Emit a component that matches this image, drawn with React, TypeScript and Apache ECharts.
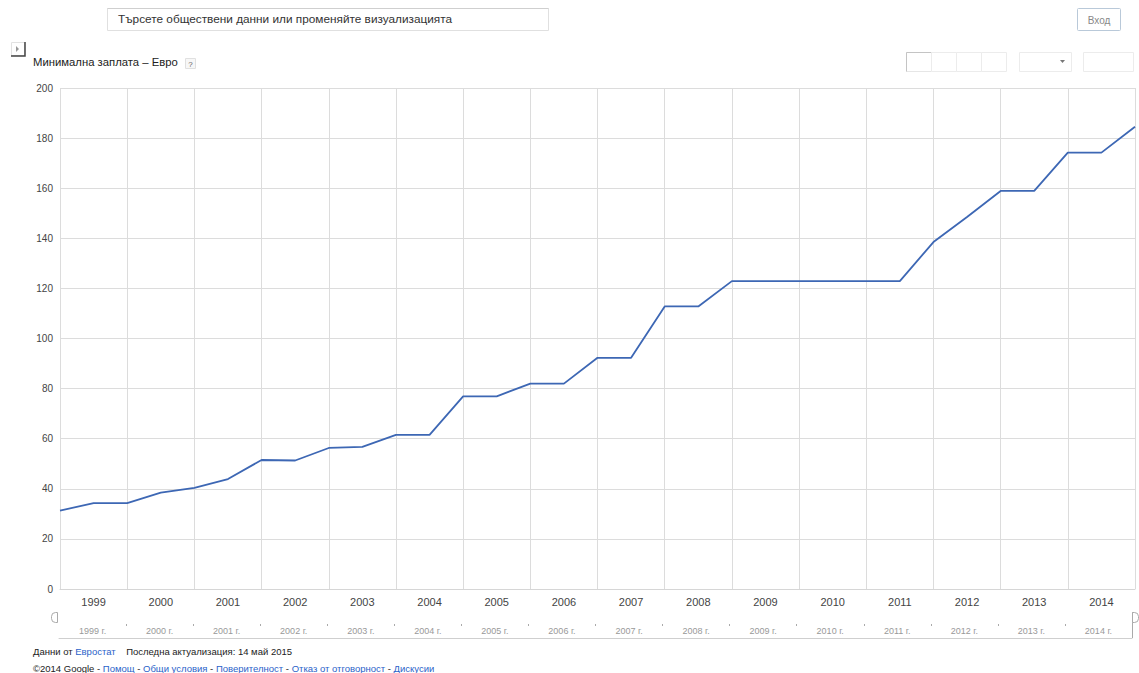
import React, { useEffect, useRef } from "react";
import * as echarts from "echarts";

const periods: string[] = [
  "1999-01", "1999-07", "2000-01", "2000-07", "2001-01", "2001-07", "2002-01", "2002-07",
  "2003-01", "2003-07", "2004-01", "2004-07", "2005-01", "2005-07", "2006-01", "2006-07",
  "2007-01", "2007-07", "2008-01", "2008-07", "2009-01", "2009-07", "2010-01", "2010-07",
  "2011-01", "2011-07", "2012-01", "2012-07", "2013-01", "2013-07", "2014-01", "2014-07",
  "2015-01",
];

const minWageEur: number[] = [
  31.3, 34.3, 34.3, 38.5, 40.4, 43.9, 51.5, 51.3,
  56.3, 56.7, 61.5, 61.5, 76.9, 76.9, 82.0, 82.0,
  92.3, 92.3, 112.8, 112.8, 122.9, 122.9, 122.9, 122.9,
  122.9, 122.9, 138.5, 148.5, 158.9, 158.9, 174.2, 174.2,
  184.5,
];

const yTicks = { min: 0, max: 200, interval: 20 };

const FONT = '"Liberation Sans", Arial, sans-serif';
const LINK = "#2a62c9";

export default function App() {
  const ref = useRef<HTMLDivElement>(null);

  useEffect(() => {
    if (!ref.current) return;
    const chart = echarts.init(ref.current, undefined, { renderer: "svg" });
    const isMid = (i: number) => i % 2 === 1;
    const isJan = (i: number) => i % 2 === 0;

    chart.setOption({
      animation: false,
      backgroundColor: "#ffffff",
      textStyle: { fontFamily: FONT },
      grid: [
        { left: 60, right: 4, top: 88, height: 501 },
        { left: 59, right: 7, top: 624, height: 14 },
      ],
      xAxis: [
        {
          type: "category",
          gridIndex: 0,
          data: periods,
          boundaryGap: false,
          axisLine: { show: true, lineStyle: { color: "#d6d6d6" } },
          axisTick: { show: false },
          axisLabel: {
            interval: (i: number) => isMid(i),
            formatter: (v: string) => v.slice(0, 4),
            color: "#444",
            fontSize: 11,
            margin: 7,
            fontFamily: FONT,
          },
          splitLine: {
            show: true,
            interval: (i: number) => isJan(i),
            lineStyle: { color: "#dcdcdc", width: 1 },
          },
        },
        {
          type: "category",
          gridIndex: 1,
          data: periods,
          boundaryGap: false,
          position: "bottom",
          axisLine: { show: true, lineStyle: { color: "#cfcfcf" } },
          axisTick: { show: false },
          axisLabel: {
            inside: true,
            interval: (i: number) => isMid(i),
            formatter: (v: string) => v.slice(0, 4) + " г.",
            color: "#999",
            fontSize: 9,
            margin: 3,
            fontFamily: FONT,
          },
          splitLine: { show: false },
        },
        {
          type: "category",
          gridIndex: 1,
          data: periods,
          boundaryGap: false,
          position: "top",
          axisLine: { show: false },
          axisTick: {
            show: true,
            inside: true,
            length: 2,
            interval: (i: number) => isJan(i) && i > 0 && i < periods.length - 1,
            lineStyle: { color: "#aaa" },
          },
          axisLabel: { show: false },
          splitLine: { show: false },
        },
      ],
      yAxis: [
        {
          type: "value",
          gridIndex: 0,
          min: yTicks.min,
          max: yTicks.max,
          interval: yTicks.interval,
          axisLine: { show: false },
          axisTick: { show: false },
          axisLabel: { color: "#444", fontSize: 10, margin: 7, fontFamily: FONT },
          splitLine: { show: true, lineStyle: { color: "#dcdcdc" } },
        },
        {
          type: "value",
          gridIndex: 1,
          min: 0,
          max: 1,
          show: false,
        },
      ],
      series: [
        {
          type: "line",
          name: "Минимална заплата – Евро",
          xAxisIndex: 0,
          yAxisIndex: 0,
          data: minWageEur,
          showSymbol: false,
          symbol: "none",
          lineStyle: { color: "#3d67b4", width: 1.8 },
          itemStyle: { color: "#3d67b4" },
        },
      ],
      graphic: [
        // search box
        {
          type: "rect",
          shape: { x: 107.5, y: 8.5, width: 441, height: 22 },
          style: { fill: "#fff", stroke: "#e0e0e0", lineWidth: 1 },
        },
        {
          type: "line",
          shape: { x1: 107.5, y1: 8.5, x2: 548.5, y2: 8.5 },
          style: { stroke: "#cfcfcf", lineWidth: 1 },
        },
        {
          type: "text",
          style: {
            text: "Търсете обществени данни или променяйте визуализацията",
            x: 118,
            y: 19,
            font: `11.8px ${FONT}`,
            fill: "#333",
            verticalAlign: "middle",
          },
        },
        // login button
        {
          type: "rect",
          shape: { x: 1077.5, y: 8.5, width: 43, height: 22, r: 1 },
          style: { fill: "#fff", stroke: "#b9c9d9", lineWidth: 1 },
        },
        {
          type: "text",
          style: {
            text: "Вход",
            x: 1099,
            y: 20,
            font: `10px ${FONT}`,
            fill: "#888",
            align: "center",
            verticalAlign: "middle",
          },
        },
        // expand icon
        {
          type: "rect",
          shape: { x: 11.5, y: 42.5, width: 13, height: 13 },
          style: { fill: "#fff", stroke: "#e2e2e2", lineWidth: 1 },
        },
        {
          type: "polyline",
          shape: { points: [[25, 42], [25, 56], [11, 56]] },
          style: { stroke: "#444", lineWidth: 1.5, fill: "none" },
        },
        {
          type: "polygon",
          shape: { points: [[16, 46], [16, 52], [19, 49]] },
          style: { fill: "#999" },
        },
        // title
        {
          type: "text",
          style: {
            text: "Минимална заплата – Евро",
            x: 33,
            y: 62,
            font: `11.3px ${FONT}`,
            fill: "#222",
            verticalAlign: "middle",
          },
        },
        {
          type: "rect",
          shape: { x: 185.5, y: 58.5, width: 10, height: 10 },
          style: { fill: "#f7f7f7", stroke: "#e0e0e0", lineWidth: 1 },
        },
        {
          type: "text",
          style: {
            text: "?",
            x: 190.5,
            y: 64,
            font: `8px ${FONT}`,
            fill: "#666",
            align: "center",
            verticalAlign: "middle",
          },
        },
        // right-side view controls
        {
          type: "rect",
          shape: { x: 906.5, y: 52.5, width: 25, height: 19 },
          style: { fill: "#fff", stroke: "#e6e6e6", lineWidth: 1 },
        },
        {
          type: "polyline",
          shape: { points: [[906.5, 71.5], [906.5, 52.5], [931.5, 52.5]] },
          style: { stroke: "#c4c4c4", lineWidth: 1, fill: "none" },
        },
        {
          type: "rect",
          shape: { x: 931.5, y: 52.5, width: 25, height: 19 },
          style: { fill: "#fff", stroke: "#ececec", lineWidth: 1 },
        },
        {
          type: "rect",
          shape: { x: 956.5, y: 52.5, width: 25, height: 19 },
          style: { fill: "#fff", stroke: "#ececec", lineWidth: 1 },
        },
        {
          type: "rect",
          shape: { x: 981.5, y: 52.5, width: 25, height: 19 },
          style: { fill: "#fff", stroke: "#ececec", lineWidth: 1 },
        },
        {
          type: "rect",
          shape: { x: 1019.5, y: 52.5, width: 52, height: 19 },
          style: { fill: "#fff", stroke: "#ececec", lineWidth: 1 },
        },
        {
          type: "polygon",
          shape: { points: [[1060, 60], [1065, 60], [1062.5, 63]] },
          style: { fill: "#777" },
        },
        {
          type: "rect",
          shape: { x: 1083.5, y: 52.5, width: 50, height: 19 },
          style: { fill: "#fff", stroke: "#ececec", lineWidth: 1 },
        },
        // range slider handles
        {
          type: "rect",
          shape: { x: 51.5, y: 612.5, width: 6, height: 10, r: [4, 0, 0, 4] },
          style: { fill: "#fff", stroke: "#aaa", lineWidth: 1 },
        },
        {
          type: "line",
          shape: { x1: 1132.5, y1: 612, x2: 1132.5, y2: 638 },
          style: { stroke: "#aaa", lineWidth: 1 },
        },
        {
          type: "rect",
          shape: { x: 1132.5, y: 612.5, width: 6, height: 10, r: [0, 4, 4, 0] },
          style: { fill: "#fff", stroke: "#aaa", lineWidth: 1 },
        },
        // footer
        {
          type: "text",
          style: {
            text: "Данни от {a|Евростат}    Последна актуализация: 14 май 2015",
            x: 33,
            y: 651,
            font: `9.5px ${FONT}`,
            fill: "#222",
            verticalAlign: "middle",
            rich: { a: { fill: LINK, font: `9.5px ${FONT}` } },
          },
        },
        {
          type: "text",
          style: {
            text:
              "©2014 Google - {a|Помощ} - {a|Общи условия} - {a|Поверителност} - {a|Отказ от отговорност} - {a|Дискусии}",
            x: 33,
            y: 668,
            font: `9.5px ${FONT}`,
            fill: "#222",
            verticalAlign: "middle",
            rich: { a: { fill: LINK, font: `9.5px ${FONT}` } },
          },
        },
      ],
    });

    return () => {
      chart.dispose();
    };
  }, []);

  return (
    <div
      ref={ref}
      style={{ position: "absolute", left: 0, top: 0, width: 1139, height: 673 }}
    />
  );
}
